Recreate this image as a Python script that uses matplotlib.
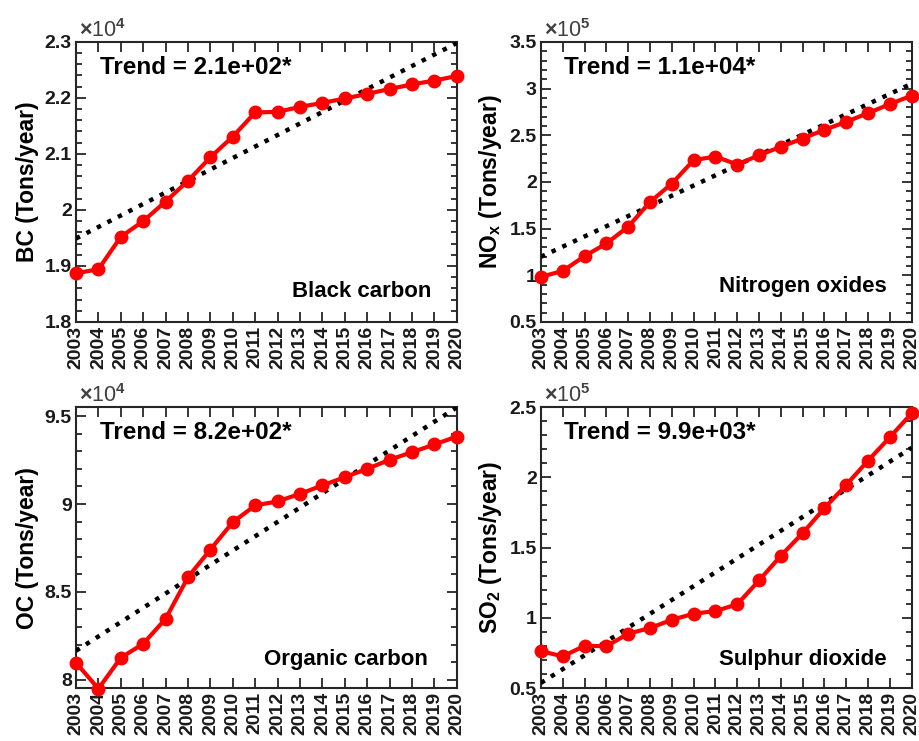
import numpy as np
import matplotlib
matplotlib.use('Agg')
import matplotlib.pyplot as plt
from matplotlib.ticker import AutoMinorLocator, FuncFormatter

plt.rcParams['font.family'] = 'Liberation Sans'
plt.rcParams['font.weight'] = 'bold'
plt.rcParams['mathtext.fontset'] = 'custom'
plt.rcParams['mathtext.rm'] = 'Liberation Sans'
plt.rcParams['mathtext.bf'] = 'Liberation Sans:bold'

years = np.arange(2003, 2021)

# values in units of the axis multiplier (x10^4 or x10^5)
bc = [1.887, 1.894, 1.952, 1.980, 2.015, 2.052, 2.094, 2.131, 2.174,
      2.175, 2.184, 2.191, 2.199, 2.207, 2.216, 2.224, 2.231, 2.239]
nox = [0.983, 1.047, 1.205, 1.341, 1.520, 1.785, 1.982, 2.233, 2.272,
       2.186, 2.286, 2.376, 2.465, 2.558, 2.644, 2.737, 2.834, 2.924]
oc = [8.097, 7.949, 8.125, 8.205, 8.347, 8.584, 8.741, 8.897, 8.992,
      9.015, 9.058, 9.106, 9.153, 9.200, 9.252, 9.295, 9.339, 9.384]
so2 = [0.763, 0.725, 0.801, 0.797, 0.887, 0.927, 0.986, 1.029, 1.048,
       1.096, 1.266, 1.442, 1.603, 1.781, 1.947, 2.120, 2.286, 2.457]

# trend line values at 2003 and 2020
trend_start = [1.949, 1.198, 8.165, 0.536]
trend_end = [2.298, 3.052, 9.550, 2.211]

series = [bc, nox, oc, so2]
exponents = [4, 5, 4, 5]
ylabels = ['BC (Tons/year)', r'NO$_\mathbf{x}$ (Tons/year)',
           'OC (Tons/year)', r'SO$_\mathbf{2}$ (Tons/year)']
names = ['Black carbon', 'Nitrogen oxides', 'Organic carbon', 'Sulphur dioxide']
trends = ['Trend = 2.1e+02*', 'Trend = 1.1e+04*', 'Trend = 8.2e+02*', 'Trend = 9.9e+03*']
ylims = [(1.8, 2.3), (0.5, 3.5), (7.953, 9.551), (0.5, 2.5)]
yticks = [[1.8, 1.9, 2.0, 2.1, 2.2, 2.3], [0.5, 1, 1.5, 2, 2.5, 3, 3.5],
          [8, 8.5, 9, 9.5], [0.5, 1, 1.5, 2, 2.5]]

# axes boxes in figure fractions [left, bottom, width, height]
boxes = [[0.0826, 0.5655, 0.414, 0.378],
         [0.588, 0.5655, 0.403, 0.378],
         [0.0826, 0.0715, 0.414, 0.379],
         [0.588, 0.0715, 0.403, 0.379]]
name_pos = [(0.934, 0.11), (0.933, 0.125), (0.924, 0.10), (0.933, 0.10)]

fig = plt.figure(figsize=(9.2, 7.41), dpi=100)
edge = '#262626'

for i in range(4):
    ax = fig.add_axes(boxes[i])
    ax.plot([years[0], years[-1]], [trend_start[i], trend_end[i]], ':',
            color='black', lw=3.2, zorder=3)
    ax.plot(years, series[i], '-o', color='#ff0000', lw=3, ms=9,
            clip_on=False, zorder=4)
    ax.set_xlim(2003, 2020)
    ax.set_ylim(*ylims[i])
    ax.set_xticks(years)
    ax.set_xticklabels([str(y) for y in years], rotation=90)
    ax.set_yticks(yticks[i])
    ax.yaxis.set_major_formatter(FuncFormatter(lambda v, p: '%g' % round(v, 3)))
    ax.yaxis.set_minor_locator(AutoMinorLocator(5))
    ax.tick_params(which='both', direction='in', top=True, right=True,
                   color=edge, labelcolor='#1a1a1a', labelsize=14, width=1.3)
    ax.tick_params(which='major', length=7, pad=3)
    ax.tick_params(which='minor', length=4)
    for sp in ax.spines.values():
        sp.set_color(edge)
        sp.set_linewidth(1.5)
    ax.set_ylabel(ylabels[i], fontsize=16.5, fontweight='bold', labelpad=4)
    ax.text(0.062, 0.91, trends[i], transform=ax.transAxes, fontsize=17.5,
            fontweight='bold', ha='left', va='center')
    ax.text(name_pos[i][0], name_pos[i][1], names[i], transform=ax.transAxes,
            fontsize=16, fontweight='bold', ha='right', va='center')
    ax.text(0.008, 1.0, r'$\times$10$^{%d}$' % exponents[i], transform=ax.transAxes,
            fontsize=15.5, fontweight='normal', color='#404040', ha='left', va='bottom')

fig.savefig('out.png', dpi=100)
